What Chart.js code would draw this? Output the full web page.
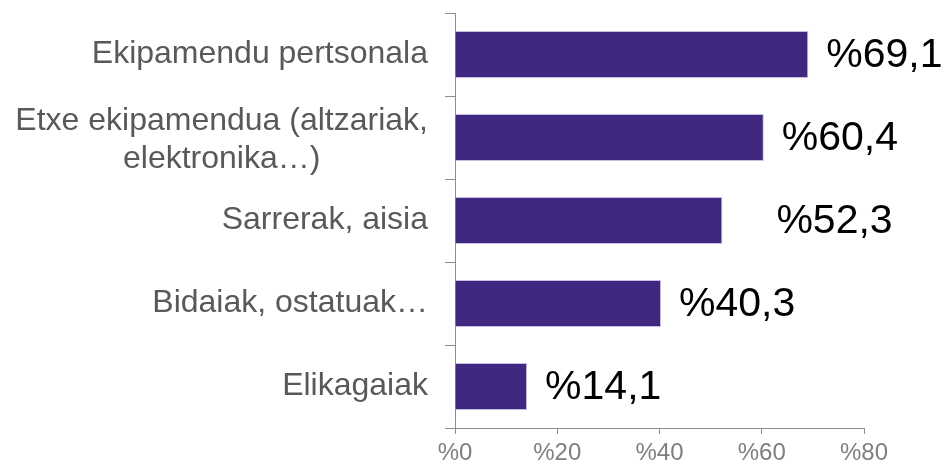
<!DOCTYPE html>
<html>
<head>
<meta charset="utf-8">
<script src="https://cdn.jsdelivr.net/npm/chart.js@4/dist/chart.umd.min.js"></script>
<style>
    html, body { margin: 0; padding: 0; background: #ffffff; }
    #wrap { width: 945px; height: 468px; }
</style>
</head>
<body>
<div id="wrap"><canvas id="spendChart" width="945" height="468"></canvas></div>
<script>
// ---------------- DATA ----------------

const categories = [
    "Ekipamendu pertsonala",
    ["Etxe ekipamendua (altzariak,", "elektronika…)"],
    "Sarrerak, aisia",
    "Bidaiak, ostatuak…",
    "Elikagaiak"
];

const values = [69.1, 60.4, 52.3, 40.3, 14.1];

const xTickLabels = ["%0", "%20", "%40", "%60", "%80"];
const xMax = 80;
const xStep = 20;

const FONT = "Arial, 'Liberation Sans', sans-serif";

function formatValue(v) {
    return "%" + v.toFixed(1).replace(".", ",");
}

// ---------------- LABEL PLUGIN ----------------

// y labels: right aligned block, lines centred inside it
const categoryLabels = {
    id: "categoryLabels",
    afterDraw(chart) {
        const ctx = chart.ctx;
        const yScale = chart.scales.y;
        const right = chart.chartArea.left - 27;
        const lineHeight = 38;

        ctx.save();
        ctx.font = "32px " + FONT;
        ctx.fillStyle = "#595959";
        ctx.textBaseline = "middle";
        ctx.textAlign = "center";

        categories.forEach((label, i) => {
            const lines = Array.isArray(label) ? label : [label];
            const widest = Math.max(...lines.map(l => ctx.measureText(l).width));
            const cx = right - widest / 2;
            const cy = yScale.getPixelForTick(i) + (lines.length > 1 ? 3 : 0);
            lines.forEach((line, j) => {
                ctx.fillText(line, cx, cy + (j - (lines.length - 1) / 2) * lineHeight);
            });
        });

        ctx.restore();
    }
};

// value labels after each bar end (third one sits further out, as in the source)
const valueLabels = {
    id: "valueLabels",
    afterDatasetsDraw(chart) {
        const ctx = chart.ctx;
        const meta = chart.getDatasetMeta(0);
        const gap = [18, 18, 54, 18, 18];

        ctx.save();
        ctx.font = "41px " + FONT;
        ctx.fillStyle = "#000000";
        ctx.textBaseline = "middle";
        ctx.textAlign = "left";

        meta.data.forEach((bar, i) => {
            ctx.fillText(formatValue(values[i]), bar.x + gap[i], bar.y + 1);
        });

        ctx.restore();
    }
};

// ---------------- BAR CHART ----------------

new Chart(document.getElementById("spendChart"), {
    type: "bar",

    data: {
        labels: categories,
        datasets: [{
            data: values,
            backgroundColor: "#402880",
            borderColor: "#c4bde6",
            borderWidth: { top: 1, right: 1, bottom: 1, left: 0 },
            borderSkipped: false,
            categoryPercentage: 1,
            barPercentage: 0.566
        }]
    },

    options: {
        responsive: false,
        animation: false,
        indexAxis: "y",

        layout: {
            padding: { left: 0, top: 13, right: 81, bottom: 0 }
        },

        scales: {
            x: {
                min: 0,
                max: xMax,
                afterFit(scale) { scale.height = 40; },
                ticks: {
                    stepSize: xStep,
                    padding: 5,
                    color: "#7f7f7f",
                    font: { family: FONT, size: 24 },
                    callback: (v, i) => xTickLabels[i]
                },
                grid: {
                    drawOnChartArea: false,
                    drawTicks: true,
                    tickLength: 6,
                    color: "#8c8c8c"
                },
                border: { display: true, color: "#8c8c8c", width: 1 }
            },

            y: {
                afterFit(scale) { scale.width = 455; },
                ticks: {
                    display: false
                },
                grid: {
                    offset: true,
                    drawOnChartArea: false,
                    drawTicks: true,
                    tickLength: 10,
                    color: "#8c8c8c"
                },
                border: { display: true, color: "#8c8c8c", width: 1 }
            }
        },

        plugins: {
            legend: { display: false },
            tooltip: { enabled: false }
        }
    },

    plugins: [categoryLabels, valueLabels]
});
</script>
</body>
</html>
